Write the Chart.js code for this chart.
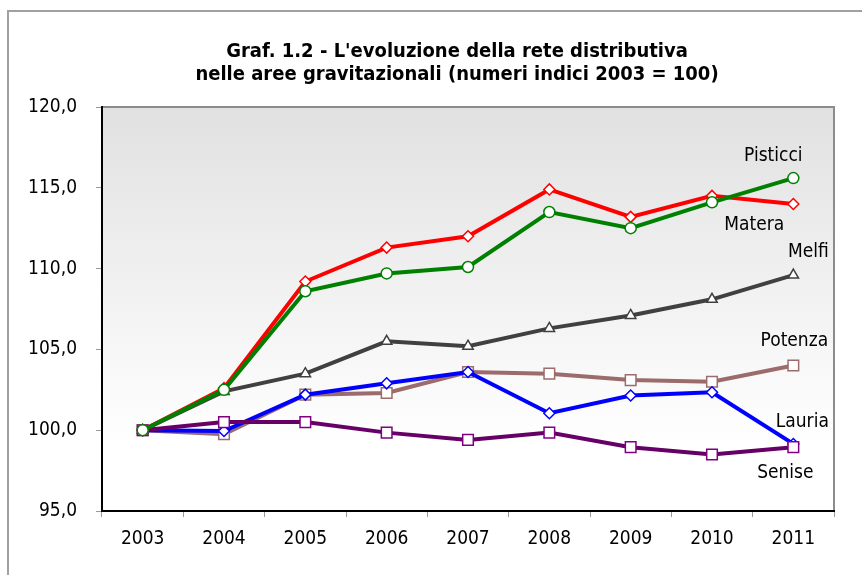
<!DOCTYPE html>
<html>
<head>
<meta charset="utf-8">
<script src="https://cdn.jsdelivr.net/npm/chart.js@4.4.1/dist/chart.umd.min.js"></script>
<style>
html,body{margin:0;padding:0;background:#fff;}
#wrap{width:862px;height:575px;position:relative;}
</style>
</head>
<body>
<div id="wrap"><canvas id="c" width="862" height="575"></canvas></div>
<script>
// ---- data ----
const years = ['2003','2004','2005','2006','2007','2008','2009','2010','2011'];
const seriesNames = ['Pisticci','Matera','Senise','Melfi','Lauria','Potenza'];
const pisticci = [100, 102.5, 108.6, 109.7, 110.1, 113.5, 112.5, 114.1, 115.6];
const matera   = [100, 102.6, 109.2, 111.3, 112.0, 114.9, 113.2, 114.5, 114.0];
const melfi    = [100, 102.4, 103.5, 105.5, 105.2, 106.3, 107.1, 108.1, 109.6];
const potenza  = [100, 99.75, 102.2, 102.3, 103.6, 103.5, 103.1, 103.0, 104.0];
const lauria   = [100, 99.95, 102.2, 102.9, 103.6, 101.05, 102.15, 102.35, 99.15];
const senise   = [100, 100.5, 100.5, 99.85, 99.4, 99.85, 98.95, 98.5, 98.95];
const yTicks   = [95, 100, 105, 110, 115, 120];
const titleLines = ["Graf. 1.2 - L'evoluzione della rete distributiva", "nelle aree gravitazionali (numeri indici 2003 = 100)"];

const FONT = '"DejaVu Sans Condensed", "DejaVu Sans", sans-serif';

const styles = {
  Pisticci: {color:'#008000', point:'circle',  r:5.5, dx:-20, dy:-22},
  Matera:   {color:'#FF0000', point:'rectRot', r:5.5, dx:-39, dy:21},
  Melfi:    {color:'#404040', point:'triangle',r:6,   dx:15,  dy:-23},
  Potenza:  {color:'#9C6B6B', point:'rect',    r:7.5, dx:1,   dy:-24},
  Lauria:   {color:'#0000FF', point:'rectRot', r:5.5, dx:9,   dy:-22},
  Senise:   {color:'#660066', point:'rect',    r:7.5, dx:-8,  dy:26, pcolor:'#800080'}
};
const values = {Pisticci:pisticci, Matera:matera, Melfi:melfi, Potenza:potenza, Lauria:lauria, Senise:senise};

const datasets = seriesNames.map(n => {
  const s = styles[n];
  return {
    label: n,
    data: values[n],
    borderColor: s.color,
    borderWidth: 4,
    pointStyle: s.point,
    pointRadius: s.r,
    pointBackgroundColor: '#FFFFFF',
    pointBorderColor: s.pcolor || s.color,
    pointBorderWidth: 1.5,
    tension: 0,
    fill: false
  };
});

const decor = {
  id: 'decor',
  beforeDraw(chart) {
    const {ctx, chartArea: a} = chart;
    ctx.save();
    // outer frame
    ctx.strokeStyle = '#A0A0A0';
    ctx.lineWidth = 2;
    ctx.beginPath();
    ctx.moveTo(8, 575); ctx.lineTo(8, 11); ctx.lineTo(862, 11);
    ctx.stroke();
    // plot gradient
    const g = ctx.createLinearGradient(0, a.top, 0, a.bottom);
    g.addColorStop(0, '#E1E1E1');
    g.addColorStop(0.84, '#FFFFFF');
    g.addColorStop(1, '#FFFFFF');
    ctx.fillStyle = g;
    ctx.fillRect(a.left, a.top, a.right - a.left, a.bottom - a.top);
    // top & right borders
    ctx.strokeStyle = '#8C8C8C';
    ctx.lineWidth = 2;
    ctx.beginPath();
    ctx.moveTo(a.left, a.top); ctx.lineTo(a.right, a.top); ctx.lineTo(a.right, a.bottom);
    ctx.stroke();
    // title
    ctx.fillStyle = '#000';
    ctx.font = 'bold 20px ' + FONT;
    ctx.textAlign = 'center';
    ctx.textBaseline = 'alphabetic';
    ctx.fillText(titleLines[0], 457, 57);
    ctx.fillText(titleLines[1], 457, 80);
    ctx.restore();
  },
  afterDatasetsDraw(chart) {
    const {ctx} = chart;
    const xs = chart.scales.x, ys = chart.scales.y;
    const last = years.length - 1;
    ctx.save();
    ctx.fillStyle = '#000';
    ctx.font = '19px ' + FONT;
    ctx.textAlign = 'center';
    ctx.textBaseline = 'middle';
    seriesNames.forEach(n => {
      const s = styles[n];
      const x = xs.getPixelForValue(last);
      const y = ys.getPixelForValue(values[n][last]);
      ctx.fillText(n, x + s.dx, y + s.dy);
    });
    ctx.restore();
  }
};

new Chart(document.getElementById('c'), {
  type: 'line',
  data: {labels: years, datasets},
  options: {
    responsive: false,
    animation: false,
    events: [],
    layout: {padding: {left: 0, top: 107, right: 28, bottom: 0}},
    plugins: {legend: {display: false}, title: {display: false}, tooltip: {enabled: false}},
    scales: {
      x: {
        offset: true,
        grid: {offset: true, drawOnChartArea: false, drawTicks: true, tickLength: 6, color: '#999', lineWidth: 1},
        border: {color: '#000', width: 2},
        ticks: {color: '#000', font: {family: FONT, size: 19}, padding: 11, maxRotation: 0},
        afterFit(s) { s.height = 64; }
      },
      y: {
        min: 95, max: 120,
        afterBuildTicks(s) { s.ticks = yTicks.map(v => ({value: v})); },
        grid: {drawOnChartArea: false, drawTicks: true, tickLength: 6, color: '#999', lineWidth: 1},
        border: {color: '#000', width: 2},
        ticks: {color: '#000', font: {family: FONT, size: 19}, padding: 19,
          callback: v => Number(v).toFixed(1).replace('.', ',')},
        afterFit(s) { s.width = 102; }
      }
    }
  },
  plugins: [decor]
});
</script>
</body>
</html>
